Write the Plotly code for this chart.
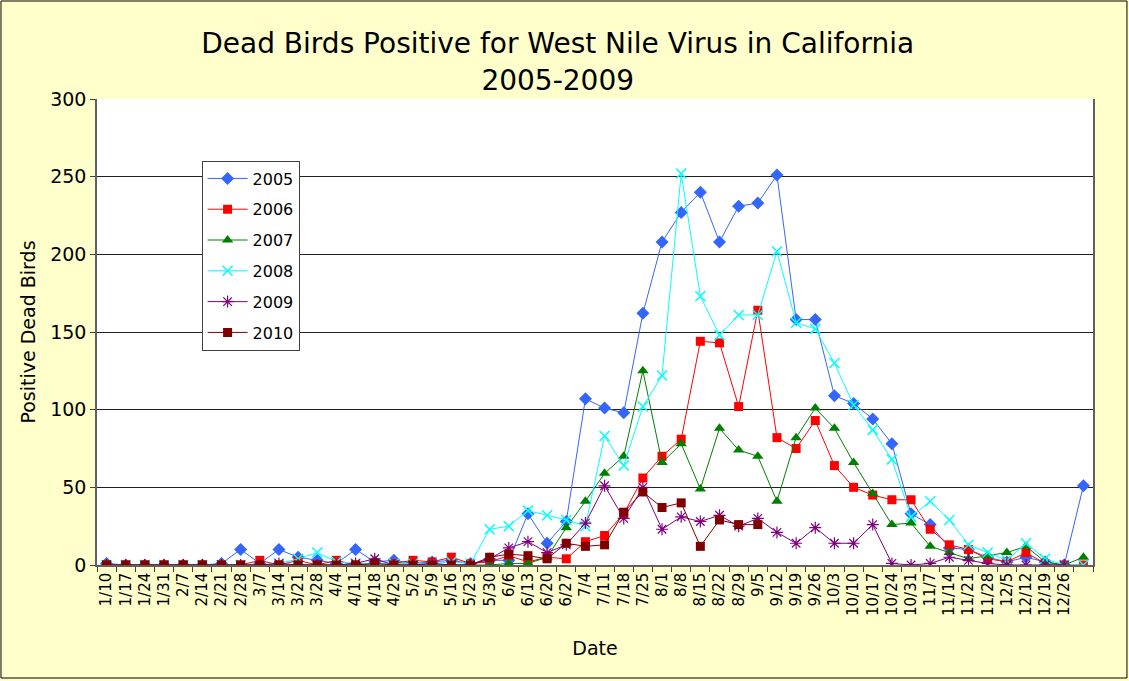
import plotly.graph_objects as go

dates = ["1/10","1/17","1/24","1/31","2/7","2/14","2/21","2/28","3/7","3/14","3/21","3/28",
         "4/4","4/11","4/18","4/25","5/2","5/9","5/16","5/23","5/30","6/6","6/13","6/20",
         "6/27","7/4","7/11","7/18","7/25","8/1","8/8","8/15","8/22","8/29","9/5","9/12",
         "9/19","9/26","10/3","10/10","10/17","10/24","10/31","11/7","11/14","11/21","11/28",
         "12/5","12/12","12/19","12/26",""]

y2005 = [1,0,0,0,0,0,1,10,1,10,5,3,1,10,2,3,1,2,3,1,3,3,33,14,28,107,101,98,162,208,
         227,240,208,231,233,251,158,158,109,104,94,78,33,26,11,10,5,2,5,2,0,51]
y2006 = [0,0,0,0,0,0,0,0,3,0,3,0,3,0,1,1,3,2,5,1,2,6,2,5,4,15,19,33,56,70,
         81,144,143,102,164,82,75,93,64,50,45,42,42,23,13,10,4,2,8,1,0,0]
y2007 = [0,0,0,0,0,0,0,0,0,0,0,0,0,0,0,0,0,0,0,0,0,1,1,5,24,41,59,70,125,66,
         78,49,88,74,70,41,82,101,88,66,46,26,27,12,8,4,6,8,12,2,0,5]
y2008 = [0,0,0,0,0,0,0,0,0,1,4,8,2,1,1,1,1,1,2,1,23,25,35,32,29,25,83,64,102,122,
         252,173,148,161,161,202,156,152,130,103,87,68,31,41,29,13,8,3,14,4,0,0]
y2009 = [0,0,0,0,0,0,0,0,0,1,0,0,0,1,4,0,0,1,0,0,4,11,15,8,13,27,51,30,50,23,
         31,28,32,25,30,21,14,24,14,14,26,1,0,1,5,3,1,0,0,0,0,None]
y2010 = [0,0,0,0,0,0,0,0,0,0,0,0,0,0,1,0,0,0,0,0,5,7,6,4,14,12,13,34,47,37,
         40,12,29,26,26]

series = [
    ("2005", y2005, "#3366FF", "diamond", 10, 1),
    ("2006", y2006, "#FF0000", "square", 9, 1),
    ("2007", y2007, "#008000", "triangle-up", 10, 1),
    ("2008", y2008, "#00FFFF", "x-thin-open", 10, 1.5),
    ("2009", y2009, "#800080", "asterisk-open", 10, 1.2),
    ("2010", y2010, "#800000", "square", 9, 1),
]

fig = go.Figure()
for name, vals, color, sym, size, lw in series:
    xs = list(range(len(vals)))
    marker = dict(symbol=sym, size=size, color=color)
    if sym.endswith("open"):
        marker["line"] = dict(color=color, width=lw)
    fig.add_trace(go.Scatter(
        x=xs, y=vals, name=name, mode="lines+markers",
        line=dict(color=color, width=1), marker=marker,
        legendgroup=name, connectgaps=False,
    ))

font_family = "DejaVu Sans, Verdana, sans-serif"
fig.update_layout(
    width=1129, height=681,
    paper_bgcolor="#FFFFCC", plot_bgcolor="#FFFFFF",
    margin=dict(l=97, r=36, t=99, b=116),
    font=dict(family=font_family, color="#000000"),
    title=dict(text="Dead Birds Positive for West Nile Virus in California<br>2005-2009",
               x=0.494, xanchor="center", xref="container",
               y=0.922, yanchor="top", yref="container",
               font=dict(size=28, family=font_family)),
    showlegend=True,
    legend=dict(x=0.105, y=0.868, xanchor="left", yanchor="top",
                bgcolor="#FFFFFF", bordercolor="#404040", borderwidth=1,
                font=dict(size=16, family=font_family), tracegroupgap=7,
                itemwidth=40),
    xaxis=dict(
        range=[-0.5, 51.5], tickmode="array",
        tickvals=list(range(len(dates))), ticktext=dates,
        tickangle=-90, tickfont=dict(size=15), ticks="",
        showgrid=False, zeroline=False,
        showline=True, linecolor="#606060", linewidth=1.5,
        minor=dict(tickmode="linear", tick0=0.5, dtick=1, ticks="outside",
                   ticklen=5, tickcolor="#404040", showgrid=False),
        title=dict(text="Date", font=dict(size=19), standoff=27),
    ),
    yaxis=dict(
        range=[0, 300], dtick=50, tickfont=dict(size=19),
        ticks="outside", ticklen=5, tickcolor="#404040",
        showgrid=True, gridcolor="#202020", gridwidth=1,
        zeroline=False, showline=True, linecolor="#606060", linewidth=1.5,
        mirror=True,
        title=dict(text="Positive Dead Birds", font=dict(size=19), standoff=10),
    ),
    shapes=[dict(type="rect", xref="paper", yref="paper",
                 x0=-0.0964, x1=1.0341, y0=-0.2425, y1=1.2103,
                 line=dict(color="#000000", width=1), layer="below")],
)

fig.write_html("out.html", config={"displayModeBar": False},
               post_script="document.body.style.margin='0';document.body.style.overflow='hidden';")
